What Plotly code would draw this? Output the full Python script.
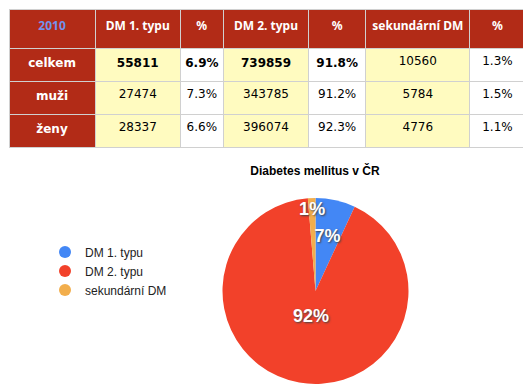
import plotly.graph_objects as go

# ---- data ----
year_label = "2010"
col_headers = ["DM 1. typu", "%", "DM 2. typu", "%", "sekundární DM", "%"]
row_labels = ["celkem", "muži", "ženy"]
dm1 = [55811, 27474, 28337]
dm1_pct = ["6.9%", "7.3%", "6.6%"]
dm2 = [739859, 343785, 396074]
dm2_pct = ["91.8%", "91.2%", "92.3%"]
sek = [10560, 5784, 4776]
sek_pct = ["1.3%", "1.5%", "1.1%"]

pie_labels = ["DM 1. typu", "DM 2. typu", "sekundární DM"]
pie_values = [dm1[0], dm2[0], sek[0]]
pie_title = "Diabetes mellitus v ČR"

W, H = 531, 387
RED_DARK = "#B22B17"
YEL = "#FFFBC0"
WHITE = "#FFFFFF"
pie_colors = ["#4387F5", "#F2412A", "#F2AE4C"]
NB = "\u00a0"
PCT = "<b>%{percent:.0%}</b>"


def bold_first(vals):
    return [f"<b>{v}</b>" if i == 0 else str(v) for i, v in enumerate(vals)]

cols = [
    [f"<b>{r}</b>" for r in row_labels],
    bold_first(dm1), bold_first(dm1_pct),
    bold_first(dm2), bold_first(dm2_pct),
    [str(v) for v in sek], sek_pct,
]
fills = [RED_DARK, YEL, WHITE, YEL, WHITE, YEL, WHITE]
fcols = ["white", "black", "black", "black", "black", "black", "black"]

fig = go.Figure()

fig.add_trace(go.Table(
    domain=dict(x=[1 / W, 517 / W], y=[1 - 150 / H, 1 - 1 / H]),
    columnwidth=[86, 85, 43, 85, 57, 104, 55],
    header=dict(
        values=[f"<b>{year_label}</b>"] + [f"<b>{h.replace(' ', NB)}</b>" for h in col_headers],
        fill_color=RED_DARK,
        line=dict(color="#D0D0D0", width=1),
        font=dict(family="Noto Sans, DejaVu Sans", size=12,
                  color=["#7393EC"] + ["white"] * 6),
        align="center", height=39,
    ),
    cells=dict(
        values=cols,
        fill_color=fills,
        line=dict(color="#D0D0D0", width=1),
        font=dict(family="DejaVu Sans", size=12, color=fcols),
        align="center", height=33,
    ),
))

CX, CY, R = 307.5, 283, 93


def pie_domain(scale):
    r = R * scale
    return dict(x=[(CX - r) / W, (CX + r) / W], y=[1 - (CY + r) / H, 1 - (CY - r) / H])

txtfont = dict(family="Arial, Liberation Sans", size=18, color="white",
               shadow="1px 1px 2px #444")

# main pie (colours)
fig.add_trace(go.Pie(
    labels=pie_labels, values=pie_values, sort=False, direction="clockwise",
    rotation=0, marker=dict(colors=pie_colors, line=dict(width=0)),
    domain=pie_domain(1.0), textinfo="none",
    showlegend=False, hoverinfo="label+value+percent",
))
# label-only overlays, one per slice
for scale, tmpl in [(0.92, ["", "", PCT]), (0.73, [PCT, "", ""]), (0.54, ["", PCT, ""])]:
    fig.add_trace(go.Pie(
        labels=pie_labels, values=pie_values, sort=False, direction="clockwise",
        rotation=0, marker=dict(colors=["rgba(0,0,0,0)"] * 3, line=dict(width=0)),
        domain=pie_domain(scale),
        texttemplate=tmpl, textposition="inside",
        insidetextorientation="horizontal", textfont=txtfont,
        showlegend=False, hoverinfo="skip",
    ))

for lab, col in zip(pie_labels, pie_colors):
    fig.add_trace(go.Scatter(
        x=[None], y=[None], mode="markers", name=lab,
        marker=dict(symbol="circle", size=13, color=col),
    ))

fig.update_layout(
    width=W, height=H,
    margin=dict(l=0, r=0, t=0, b=0),
    paper_bgcolor="white", plot_bgcolor="white",
    uniformtext=dict(minsize=18, mode="show"),
    title=dict(text=f"<b>{pie_title}</b>", x=307 / W, xanchor="center",
               y=1 - 163 / H, yanchor="middle",
               font=dict(family="Arial, Liberation Sans", size=12, color="black")),
    legend=dict(x=37 / W, y=1 - 263 / H, xanchor="left", yanchor="middle",
                font=dict(family="Arial, Liberation Sans", size=12, color="#222"),
                bgcolor="rgba(0,0,0,0)", itemsizing="constant"),
    xaxis=dict(visible=False, domain=[0, 0.01]),
    yaxis=dict(visible=False, domain=[0, 0.01]),
)

fig.write_html("out.html")
